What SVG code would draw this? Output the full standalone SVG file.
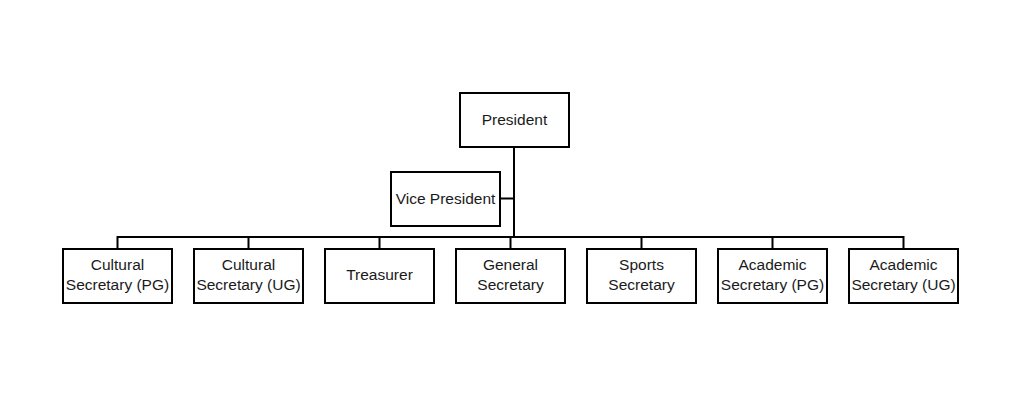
<svg xmlns="http://www.w3.org/2000/svg" width="1024" height="406" viewBox="0 0 1024 406">
<style>
.box{fill:#fff;stroke:#000;stroke-width:2}
.t{font-family:"Liberation Sans",Arial,sans-serif;font-size:15.5px;fill:#1a1a1a;text-anchor:middle}
.c{fill:none;stroke:#000;stroke-width:2}
</style>
<rect width="1024" height="406" fill="#fff"/>
<g id="connectors">
<path class="c" d="M514 147V238" stroke-width="3"/>
<path class="c" d="M500 198.5H514" stroke-width="1.5"/>
<path class="c" d="M117.5 249V237H903.5V249"/>
<path class="c" d="M248.5 237V249M379.5 237V249M510.5 237V249M641.5 237V249M772.5 237V249"/>
</g>
<g id="president"><rect class="box" x="460" y="93" width="109" height="54"/><text class="t" x="514.5" y="125">President</text></g>
<g id="vice-president"><rect class="box" x="391" y="172" width="109" height="54"/><text class="t" x="445.5" y="204">Vice President</text></g>
<g id="cultural-pg"><rect class="box" x="63" y="249" width="109" height="54"/><text class="t" x="117.5" y="270">Cultural</text><text class="t" x="117.5" y="290">Secretary (PG)</text></g>
<g id="cultural-ug"><rect class="box" x="194" y="249" width="109" height="54"/><text class="t" x="248.5" y="270">Cultural</text><text class="t" x="248.5" y="290">Secretary (UG)</text></g>
<g id="treasurer"><rect class="box" x="325" y="249" width="109" height="54"/><text class="t" x="379.5" y="280">Treasurer</text></g>
<g id="general-secretary"><rect class="box" x="456" y="249" width="109" height="54"/><text class="t" x="510.5" y="270">General</text><text class="t" x="510.5" y="290">Secretary</text></g>
<g id="sports-secretary"><rect class="box" x="587" y="249" width="109" height="54"/><text class="t" x="641.5" y="270">Sports</text><text class="t" x="641.5" y="290">Secretary</text></g>
<g id="academic-pg"><rect class="box" x="718" y="249" width="109" height="54"/><text class="t" x="772.5" y="270">Academic</text><text class="t" x="772.5" y="290">Secretary (PG)</text></g>
<g id="academic-ug"><rect class="box" x="849" y="249" width="109" height="54"/><text class="t" x="903.5" y="270">Academic</text><text class="t" x="903.5" y="290">Secretary (UG)</text></g>
</svg>
